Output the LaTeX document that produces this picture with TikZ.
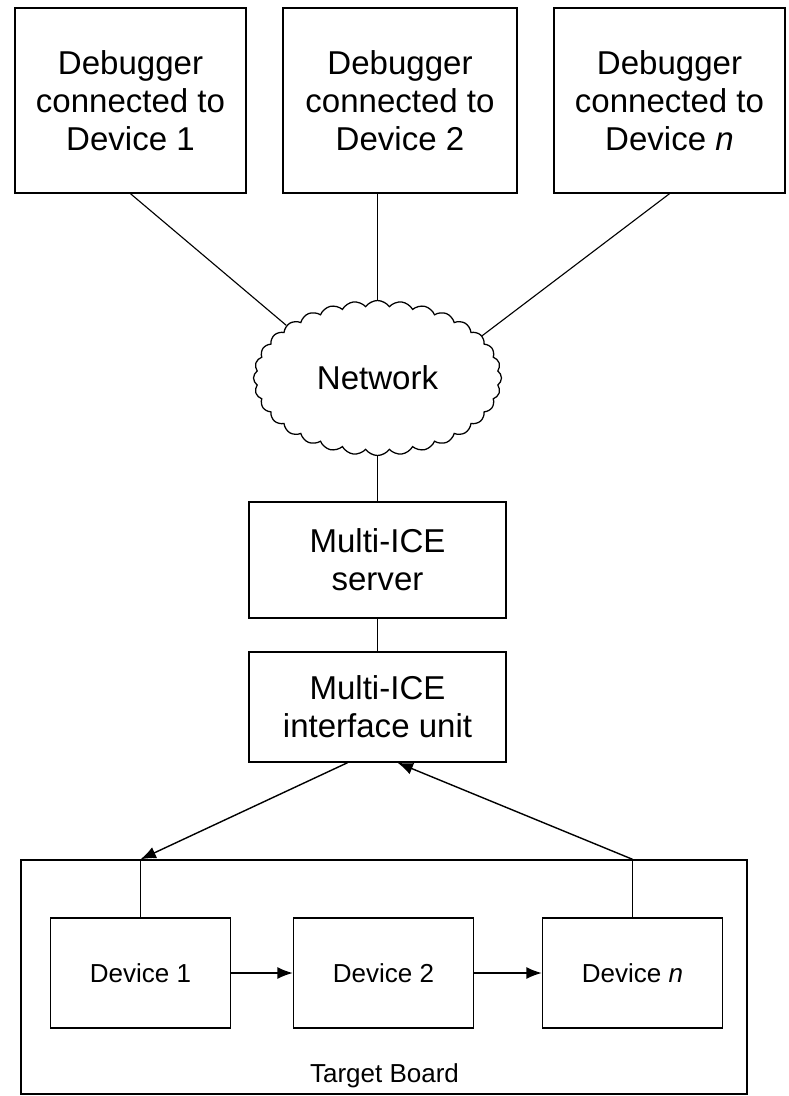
\documentclass[tikz,border=0pt]{standalone}
\usepackage{fontspec}
\setmainfont{Liberation Sans}
\usetikzlibrary{arrows.meta,shapes.symbols}

\begin{document}
\begin{tikzpicture}[
    box/.style={draw, line width=1pt, align=center, font=\fontsize{23.5}{27}\selectfont},
    devbox/.style={draw, line width=1pt, minimum width=4.5cm, minimum height=2.75cm, font=\fontsize{18.5}{22}\selectfont},
    link/.style={line width=0.8pt},
    arr/.style={line width=1pt, -{Latex[length=11pt, width=8.5pt]}}
]
    \useasboundingbox (0, 0) rectangle (19.725, -27.4);

    \node[box, minimum width=5.775cm, minimum height=4.625cm] (dbg1) at (3.2625, -2.5125) {Debugger\\connected to\\Device 1};
    \node[box, minimum width=5.85cm, minimum height=4.625cm] (dbg2) at (10.0, -2.5125) {Debugger\\connected to\\Device 2};
    \node[box, minimum width=5.775cm, minimum height=4.625cm] (dbgn) at (16.7375, -2.5125) {Debugger\\connected to\\Device \textit{n}};

    \node[cloud, draw, line width=0.9pt, cloud puffs=32, cloud puff arc=110, aspect=1.6, minimum width=6.2cm, minimum height=3.875cm, font=\fontsize{23.5}{27}\selectfont] (net) at (9.4375, -9.45) {Network};

    \node[box, minimum width=6.425cm, minimum height=2.9cm] (server) at (9.4375, -14.0) {Multi-ICE\\server};
    \node[box, minimum width=6.425cm, minimum height=2.75cm] (iface) at (9.4375, -17.675) {Multi-ICE\\interface unit};

    \node[draw, line width=1pt, minimum width=18.15cm, minimum height=5.85cm] (board) at (9.6, -24.425) {};
    \node[font=\fontsize{18.5}{22}\selectfont] (boardlbl) at (9.6125, -26.9) {Target Board};

    \node[devbox] (dev1) at (3.5125, -24.325) {Device 1};
    \node[devbox] (dev2) at (9.5875, -24.325) {Device 2};
    \node[devbox] (devn) at (15.8125, -24.325) {Device \textit{n}};

    \coordinate (in1) at (dev1.north |- board.north);
    \coordinate (outn) at (devn.north |- board.north);
    \coordinate (ifout) at ([xshift=-0.75cm]iface.south);
    \coordinate (ifin) at ([xshift=0.5cm]iface.south);

    \draw[link] (dbg1.south) -- (net.150);
    \draw[link] (dbg2.south -| net.90) -- (net.90);
    \draw[link] (dbgn.south) -- (net.22);

    \draw[line width=1pt] (net.270) -- (server.north);
    \draw[line width=1pt] (server.south) -- (iface.north);

    \draw[arr] (ifout) -- (in1);
    \draw[arr] (outn) -- (ifin);

    \draw[line width=1pt] (in1) -- (dev1.north);
    \draw[line width=1pt] (outn) -- (devn.north);

    \draw[arr] (dev1.east) -- (dev2.west);
    \draw[arr] (dev2.east) -- (devn.west);
\end{tikzpicture}
\end{document}
